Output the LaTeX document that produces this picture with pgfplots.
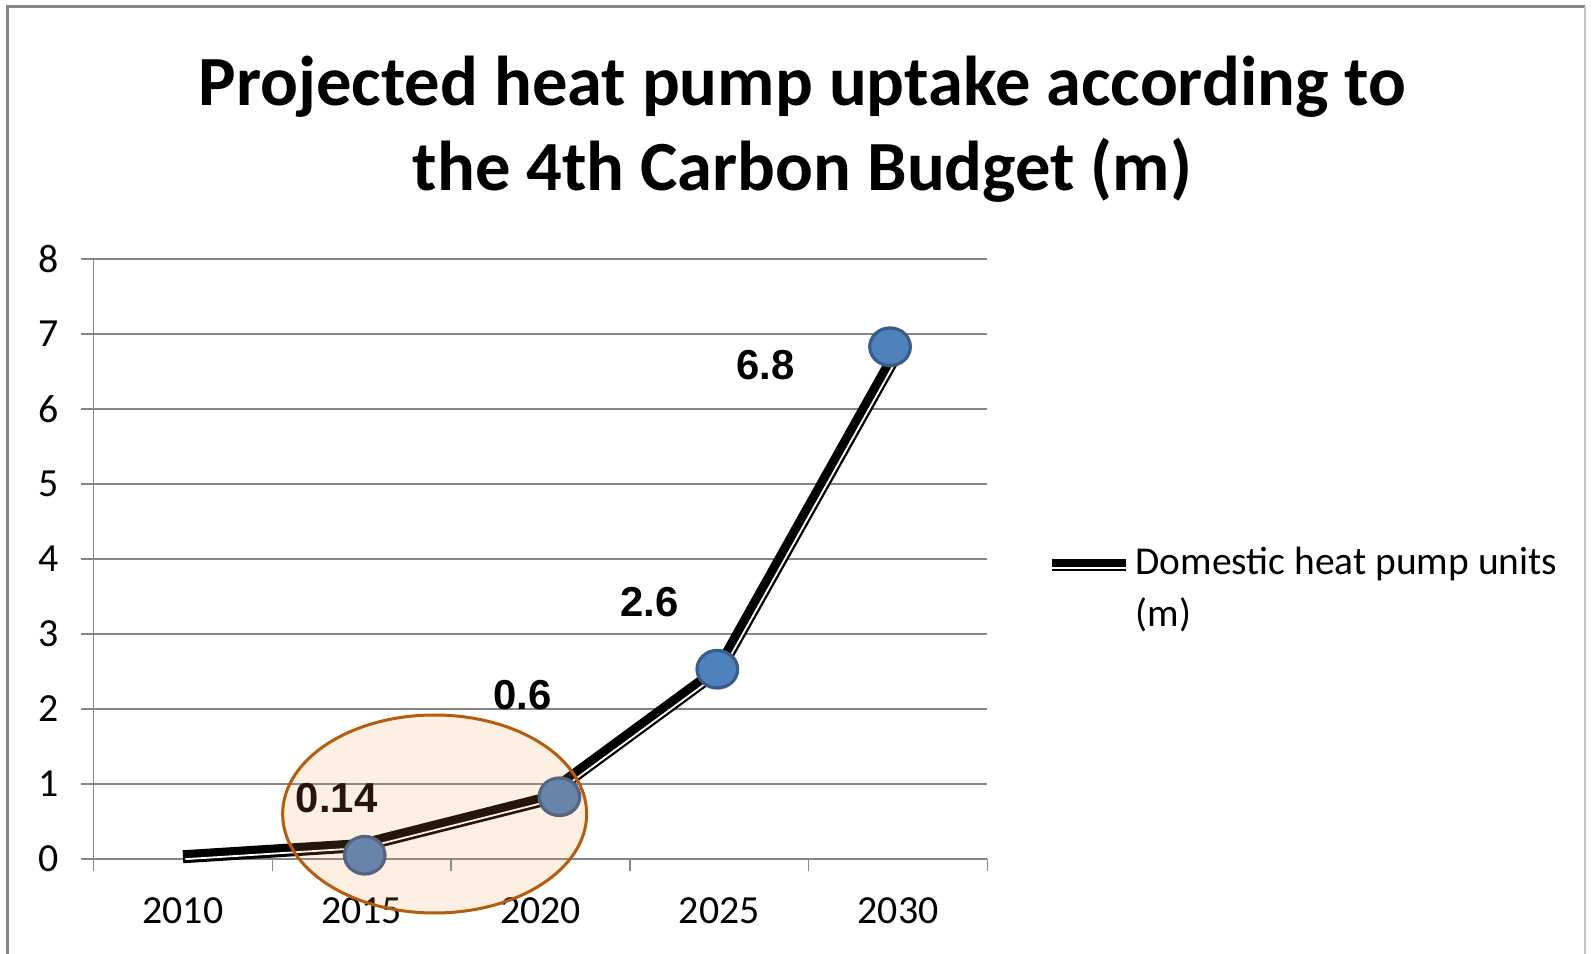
\documentclass[border=0pt]{standalone}
\usepackage{fontspec}
\setmainfont{Carlito}
\newfontfamily\arialfont{Liberation Sans}
\usepackage{pgfplots}
\pgfplotsset{compat=1.18}
\definecolor{gridgray}{RGB}{134,134,134}
\definecolor{mkfill}{RGB}{79,129,189}
\definecolor{mkdraw}{RGB}{56,93,138}
\definecolor{ringorange}{RGB}{247,150,70}
\definecolor{ringedge}{RGB}{181,92,14}

\begin{document}
\begin{tikzpicture}
\path[use as bounding box] (-46.75bp,-47.5bp) rectangle (749.75bp,429.5bp);
% outer chart frame
\draw[gridgray, line width=1.5bp] (-42.75bp,-60bp) -- (-42.75bp,426bp) -- (745.75bp,426bp);
\draw[gridgray!50, line width=0.8bp] (745.75bp,426bp) -- (745.75bp,-60bp);
\begin{axis}[
    scale only axis, width=447bp, height=300bp,
    xmin=-0.5, xmax=4.5, ymin=0, ymax=8,
    xtick={-0.5,0.5,...,4.5}, x tick label as interval,
    xticklabels={2010,2015,2020,2025,2030},
    ytick={0,...,8},
    axis x line*=bottom, axis y line*=left,
    ymajorgrids, grid style={gridgray, line width=0.75bp},
    axis line style={gridgray, line width=0.75bp},
    tick style={gridgray, line width=0.75bp},
    tick align=outside, major tick length=6bp,
    ticklabel style={font=\fontsize{20}{24}\selectfont, text=black},
    xticklabel style={yshift=-10bp},
    yticklabel style={xshift=-8bp},
    /pgf/number format/assume math mode=true,
    clip=false,
    legend style={draw=none, fill=none, at={(1.058,0.533)}, anchor=north west,
        font=\fontsize{19.8}{26}\selectfont, cells={align=left}},
    legend cell align=left,
]
\addplot[black, line width=6.5bp, line join=round,
    legend image code/.code={
        \draw[black, line width=6bp] (0bp,12bp) -- (37bp,12bp);
        \draw[white, line width=0.9bp] (0bp,10.4bp) -- (37bp,10.4bp);}]
    coordinates {(0,0.03) (1,0.18) (2,0.78) (3,2.53) (4,6.78)};
\addlegendentry{Domestic heat pump units\\(m)}
\addplot[white, line width=0.9bp, line join=round, xshift=1.2bp, yshift=-1.2bp, forget plot]
    coordinates {(0,0.03) (1,0.18) (2,0.78) (3,2.53) (4,6.78)};
\addplot[only marks, mark=*, mark size=9.4bp, forget plot,
    mark options={fill=mkfill, draw=mkdraw, line width=1.6bp, xscale=1.08}]
    coordinates {(1.017,0.05) (2.106,0.83) (2.989,2.53) (3.955,6.83)};
\node[font=\arialfont\bfseries\fontsize{21}{24}\selectfont] at (axis cs:0.86,0.81) {0.14};
\node[font=\arialfont\bfseries\fontsize{21}{24}\selectfont] at (axis cs:1.90,2.19) {0.6};
\node[font=\arialfont\bfseries\fontsize{21}{24}\selectfont] at (axis cs:2.61,3.43) {2.6};
\node[font=\arialfont\bfseries\fontsize{21}{24}\selectfont] at (axis cs:3.26,6.59) {6.8};
\node[anchor=base, font=\bfseries\fontsize{35.4}{42}\selectfont] at (rel axis cs:0.793,1.255) {Projected heat pump uptake according to};
\node[anchor=base, font=\bfseries\fontsize{35.4}{42}\selectfont] at (rel axis cs:0.793,1.114) {the 4th Carbon Budget (m)};
\coordinate (ec) at (axis cs:1.408,0.6);
\end{axis}
\draw[ringedge, line width=1.5bp, fill=ringorange, fill opacity=0.15] (ec) ellipse [x radius=76bp, y radius=49.5bp];
\end{tikzpicture}
\end{document}
